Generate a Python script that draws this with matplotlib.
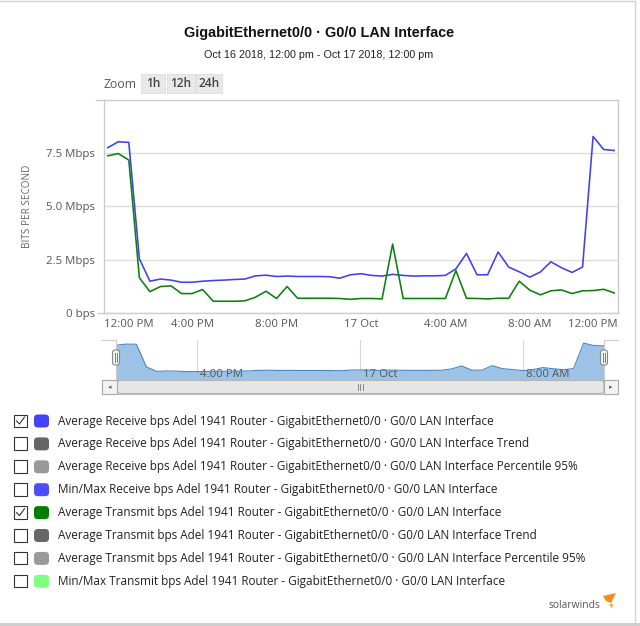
import numpy as np
import matplotlib
matplotlib.use("Agg")
import matplotlib.pyplot as plt
from matplotlib.patches import Rectangle, FancyBboxPatch, Polygon

W, H = 640, 626

# half-hourly samples, Oct 16 12:00 pm -> Oct 17 12:00 pm (hours since start)
hours = np.arange(49) * 0.5
receive_mbps = [7.74, 8.02, 7.99, 2.54, 1.49, 1.59, 1.54, 1.44, 1.44, 1.49,
                1.52, 1.54, 1.57, 1.59, 1.74, 1.77, 1.71, 1.73, 1.71, 1.71,
                1.71, 1.70, 1.63, 1.79, 1.84, 1.76, 1.73, 1.81, 1.76, 1.73,
                1.74, 1.74, 1.76, 2.07, 2.79, 1.79, 1.79, 2.86, 2.15, 1.93,
                1.68, 1.92, 2.40, 2.12, 1.90, 2.15, 8.27, 7.66, 7.61]
transmit_mbps = [7.36, 7.47, 7.16, 1.65, 1.00, 1.24, 1.27, 0.91, 0.91, 1.10,
                 0.55, 0.55, 0.55, 0.57, 0.74, 1.02, 0.68, 1.24, 0.69, 0.69,
                 0.69, 0.69, 0.68, 0.64, 0.68, 0.68, 0.66, 3.23, 0.68, 0.68,
                 0.68, 0.68, 0.68, 1.99, 0.69, 0.68, 0.66, 0.69, 0.69, 1.49,
                 1.07, 0.85, 1.04, 1.08, 0.91, 1.04, 1.05, 1.11, 0.94]

y_ticks = [0, 2.5, 5.0, 7.5]
y_tick_labels = ["0 bps", "2.5 Mbps", "5.0 Mbps", "7.5 Mbps"]
x_ticks = [0, 4, 8, 12, 16, 20, 24]
x_tick_labels = ["12:00 PM", "4:00 PM", "8:00 PM", "17 Oct", "4:00 AM", "8:00 AM", "12:00 PM"]
nav_ticks = [4, 12, 20]
nav_tick_labels = ["4:00 PM", "17 Oct", "8:00 AM"]

legend_labels = [
    "Average Receive bps Adel 1941 Router - GigabitEthernet0/0 · G0/0 LAN Interface",
    "Average Receive bps Adel 1941 Router - GigabitEthernet0/0 · G0/0 LAN Interface Trend",
    "Average Receive bps Adel 1941 Router - GigabitEthernet0/0 · G0/0 LAN Interface Percentile 95%",
    "Min/Max Receive bps Adel 1941 Router - GigabitEthernet0/0 · G0/0 LAN Interface",
    "Average Transmit bps Adel 1941 Router - GigabitEthernet0/0 · G0/0 LAN Interface",
    "Average Transmit bps Adel 1941 Router - GigabitEthernet0/0 · G0/0 LAN Interface Trend",
    "Average Transmit bps Adel 1941 Router - GigabitEthernet0/0 · G0/0 LAN Interface Percentile 95%",
    "Min/Max Transmit bps Adel 1941 Router - GigabitEthernet0/0 · G0/0 LAN Interface",
]
legend_colors = ["#4343f5", "#666666", "#999999", "#4d4dff",
                 "#008000", "#666666", "#999999", "#80ff80"]
legend_checked = [True, False, False, False, True, False, False, False]

BLUE = "#4040ee"
GREEN = "#0a800a"
TXT = "#555555"
FONT = ["Open Sans", "DejaVu Sans"]
plt.rcParams["font.family"] = FONT


def fx(x):
    return x / W


def fy(y):
    return 1 - y / H


def box(x0, y0, x1, y1):
    return [fx(x0), fy(y1), fx(x1) - fx(x0), fy(y0) - fy(y1)]


fig = plt.figure(figsize=(W / 100, H / 100), dpi=100)
fig.patch.set_facecolor("white")

# outer frame
fig.add_artist(plt.Line2D([0, fx(635)], [fy(1), fy(1)], color="#d4d4d4", lw=1))
fig.add_artist(plt.Line2D([fx(635), fx(635)], [fy(1), fy(623)], color="#d4d4d4", lw=1))
fig.add_artist(Rectangle((0, 0), 1, fy(623), transform=fig.transFigure,
                         color="#cfcfcf", lw=0))

# titles
fig.text(fx(319), fy(33), "GigabitEthernet0/0 · G0/0 LAN Interface", ha="center", va="center",
         fontsize=10.4, fontweight="bold", color="#111111", family=["Liberation Sans", "DejaVu Sans"])
fig.text(fx(318.5), fy(55), "Oct 16 2018, 12:00 pm - Oct 17 2018, 12:00 pm", ha="center",
         va="center", fontsize=7.75, color="#222222", family=["Liberation Sans", "DejaVu Sans"])

# zoom buttons
fig.text(fx(103), fy(84.5), "Zoom", ha="left", va="center", fontsize=8.8, color=TXT)
for lab, x0, x1 in [("1h", 141, 165), ("12h", 166.5, 195), ("24h", 196, 222)]:
    fig.add_artist(Rectangle((fx(x0), fy(93)), fx(x1) - fx(x0), fy(74) - fy(93),
                             transform=fig.transFigure, facecolor="#e9e9e9",
                             edgecolor="#dddddd", lw=0.6))
    fig.text(fx((x0 + x1) / 2), fy(83.5), lab, ha="center", va="center",
             fontsize=8.6, color="#444444", fontweight="semibold")

# main chart
ax = fig.add_axes(box(103.5, 99.5, 618, 313))
ax.plot(hours, receive_mbps, color=BLUE, lw=1.15, zorder=3)
ax.plot(hours, transmit_mbps, color=GREEN, lw=1.15, zorder=3)
ax.set_xlim(-0.2, 24.18)
ax.set_ylim(0, 10)
ax.set_yticks(y_ticks)
ax.set_yticklabels(y_tick_labels, fontsize=8.2, color=TXT)
ax.yaxis.grid(True, color="#dddddd", lw=1)
ax.set_axisbelow(True)
ax.tick_params(axis="y", length=0, pad=6)
ax.set_xticks([])
for i, (t, lab) in enumerate(zip(x_ticks, x_tick_labels)):
    if i == 0:
        ax.text(0, -0.028, lab, transform=ax.transAxes, ha="left", va="top", fontsize=8.2, color=TXT)
    elif i == len(x_ticks) - 1:
        ax.text(1, -0.028, lab, transform=ax.transAxes, ha="right", va="top", fontsize=8.2, color=TXT)
    else:
        ax.text(t, -0.28, lab, ha="center", va="top", fontsize=8.2, color=TXT, clip_on=False)
for s in ax.spines.values():
    s.set_color("#cccccc")
    s.set_linewidth(1)
ax.set_ylabel("BITS PER SECOND", fontsize=7.2, color="#666666")
ax.yaxis.set_label_coords(-0.137, 0.5)
# little left ticks at top and bottom of value axis
fig.add_artist(plt.Line2D([fx(98), fx(103.5)], [fy(313), fy(313)], color="#cccccc", lw=1))
fig.add_artist(plt.Line2D([fx(96), fx(103.5)], [fy(99.5), fy(99.5)], color="#cccccc", lw=1))

# navigator
nav = fig.add_axes(box(116, 340, 604, 379.5))
nav.fill_between(hours, receive_mbps, -1, color="#9cc3e6", lw=0)
nav.plot(hours, receive_mbps, color="#4a86c5", lw=0.8, solid_joinstyle="round")
nav.set_xlim(0, 24)
nav.set_ylim(-0.45, 9.0)
nav.set_xticks([])
nav.set_yticks([])
for t, lab in zip(nav_ticks, nav_tick_labels):
    nav.axvline(t, color="#d8d8d8", lw=0.8, zorder=0)
    nav.text(t + 0.15, 0.8, lab, ha="left", va="center", fontsize=8.2, color="#555555", zorder=1)
nav.set_facecolor("none")
for s in nav.spines.values():
    s.set_visible(False)
# navigator outline
fig.add_artist(plt.Line2D([fx(102), fx(116), fx(116)], [fy(340), fy(340), fy(379)],
                          color="#cccccc", lw=0.8))
fig.add_artist(plt.Line2D([fx(618), fx(604), fx(604)], [fy(340), fy(340), fy(379)],
                          color="#cccccc", lw=0.8))
for hx in (116, 604):
    fig.add_artist(FancyBboxPatch((fx(hx - 3.5), fy(365)), fx(7), fy(350) - fy(365),
                                  boxstyle="round,pad=0,rounding_size=0.004",
                                  transform=fig.transFigure, facecolor="#f4f4f4",
                                  edgecolor="#888888", lw=0.8, zorder=5))
    for dx in (-1, 1):
        fig.add_artist(plt.Line2D([fx(hx + dx), fx(hx + dx)], [fy(353), fy(362)],
                                  color="#666666", lw=0.6, zorder=6))

# scrollbar
fig.add_artist(Rectangle((fx(102), fy(394)), fx(618) - fx(102), fy(380) - fy(394),
                         transform=fig.transFigure, facecolor="#eeeeee",
                         edgecolor="#bbbbbb", lw=0.8))
fig.add_artist(FancyBboxPatch((fx(117), fy(393.5)), fx(604) - fx(117), fy(380.5) - fy(393.5),
                              boxstyle="round,pad=0,rounding_size=0.006",
                              transform=fig.transFigure, facecolor="#e6e6e6",
                              edgecolor="#b5b5b5", lw=0.8))
for bx0, bx1, arrow in [(102, 117, "◂"), (604, 618, "▸")]:
    fig.add_artist(Rectangle((fx(bx0), fy(394)), fx(bx1) - fx(bx0), fy(380) - fy(394),
                             transform=fig.transFigure, facecolor="#f2f2f2",
                             edgecolor="#aaaaaa", lw=0.8))
    fig.text(fx((bx0 + bx1) / 2), fy(387), arrow, ha="center", va="center",
             fontsize=5, color="#666666", family=["DejaVu Sans"])
for dx in (-2.5, 0, 2.5):
    fig.add_artist(plt.Line2D([fx(360 + dx), fx(360 + dx)], [fy(384), fy(390)],
                              color="#777777", lw=0.6))

# legend
for i, (lab, col, chk) in enumerate(zip(legend_labels, legend_colors, legend_checked)):
    yc = 421 + i * 22.9
    fig.add_artist(Rectangle((fx(14), fy(yc + 6)), fx(12.5), fy(yc - 6.5) - fy(yc + 6),
                             transform=fig.transFigure, facecolor="white",
                             edgecolor="#333333", lw=0.8))
    if chk:
        fig.add_artist(plt.Line2D([fx(16.5), fx(19.5), fx(24.5)],
                                  [fy(yc), fy(yc + 3), fy(yc - 4)], color="#333333", lw=0.8))
    fig.add_artist(FancyBboxPatch((fx(34), fy(yc + 6.5)), fx(15), fy(yc - 6.5) - fy(yc + 6.5),
                                  boxstyle="round,pad=0,rounding_size=0.006",
                                  transform=fig.transFigure, facecolor=col, lw=0))
    fig.text(fx(58), fy(yc), lab, ha="left", va="center", fontsize=8.5, color="#222222")

# brand
fig.text(fx(600), fy(605), "solarwinds", ha="right", va="center", fontsize=7.4, color="#555555")
fig.add_artist(Polygon([(fx(603), fy(596)), (fx(616), fy(593)), (fx(611), fy(603)),
                        (fx(606), fy(601))], closed=True, transform=fig.transFigure,
                       facecolor="#f28c1e", lw=0))
fig.add_artist(Polygon([(fx(609), fy(604)), (fx(613), fy(604)), (fx(612), fy(609))],
                       closed=True, transform=fig.transFigure, facecolor="#f6a94a", lw=0))

fig.savefig("out.png", dpi=100)
